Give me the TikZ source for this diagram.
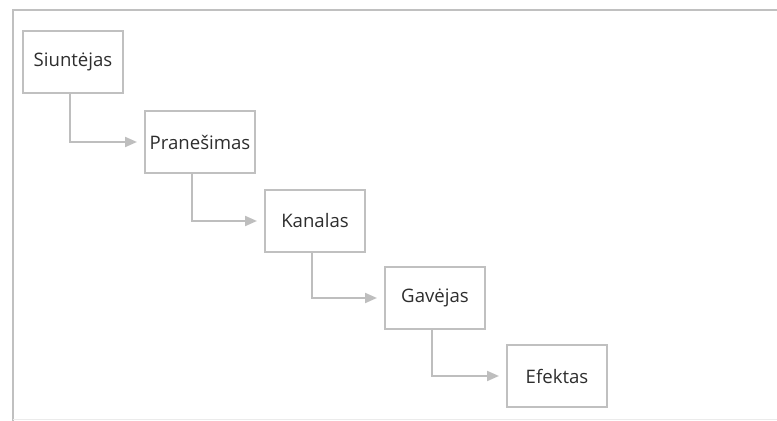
\documentclass[tikz,border=0pt]{standalone}
\usepackage{fontspec}
\setmainfont{Open Sans}
\usetikzlibrary{arrows.meta, positioning}
\definecolor{boxgray}{RGB}{192,192,192}
\definecolor{linegray}{RGB}{190,190,190}
\definecolor{textgray}{RGB}{45,45,45}
\tikzset{
  stage/.style={draw=boxgray, line width=1pt, minimum width=50pt, minimum height=31pt,
    inner sep=2pt, text=textgray, font=\fontsize{9.3}{11}\selectfont},
  flow/.style={draw=linegray, line width=1pt, -{Triangle[length=6pt, width=5pt]}, shorten >=3.5pt}
}

\begin{document}
\begin{tikzpicture}[x=0.5pt, y=-0.5pt]
  \useasboundingbox (0,0) rectangle (777,421);
  % outer frame
  \draw[boxgray, line width=1pt] (13,421) -- (13,10) -- (777,10);
  \draw[black!8, line width=0.5pt] (13,420) -- (777,420);

  % stages
  \node[stage] (sender) at (73,62) {Siuntėjas};
  \node[stage, minimum width=55pt] (message) at (200,142) {Pranešimas};
  \node[stage] (channel) at (315,221) {Kanalas};
  \node[stage] (receiver) at (435,298) {Gavėjas};
  \node[stage] (effect) at (557,376) {Efektas};

  % connectors
  \draw[flow] ([xshift=-1.5pt]sender.south) |- (message.west);
  \draw[flow] ([xshift=-4pt]message.south) |- (channel.west);
  \draw[flow] ([xshift=-1.5pt]channel.south) |- (receiver.west);
  \draw[flow] ([xshift=-1.5pt]receiver.south) |- (effect.west);
\end{tikzpicture}
\end{document}
